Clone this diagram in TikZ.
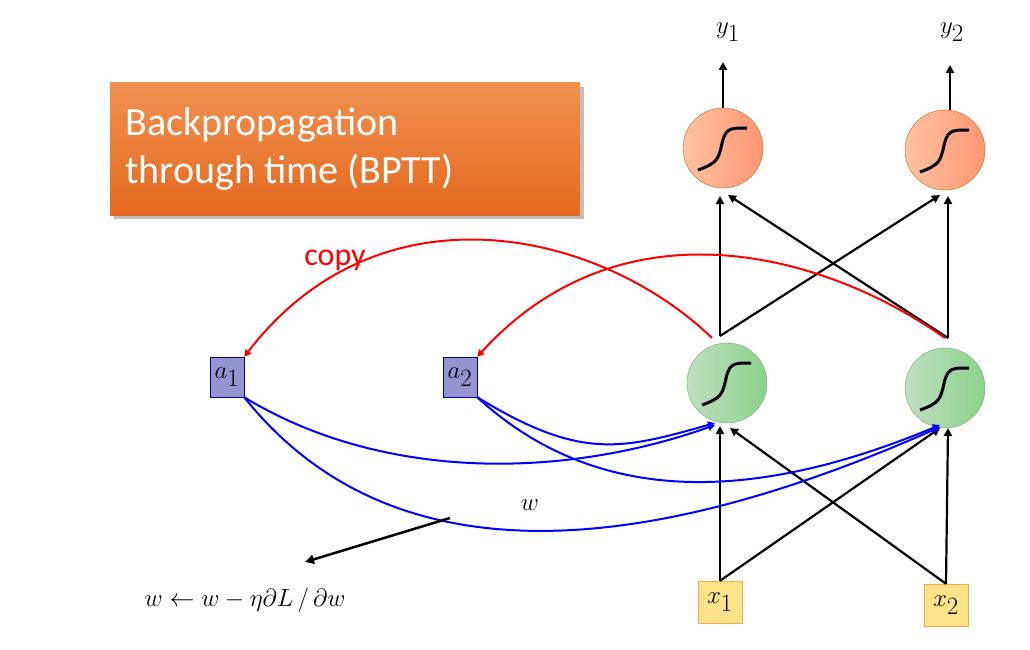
\documentclass[tikz,border=0pt]{standalone}
\usepackage{fontspec}
\setsansfont{Carlito}
\usetikzlibrary{arrows.meta}
\begin{document}
\begin{tikzpicture}[x=1pt,y=-1pt,
 neuronO/.style={circle,minimum size=80pt,draw=orange!80!black,left color=orange!30!white!90!red,right color=orange!50!red!55,inner sep=0},
 neuronG/.style={circle,minimum size=80pt,draw=green!50!black!60,left color=green!50!black!25,right color=green!60!black!45,inner sep=0},
 box/.style={draw=blue!60!black,fill=blue!40!gray!60,minimum width=34pt,minimum height=40pt,inner sep=0,font=\fontsize{34}{34}\selectfont},
 xbox/.style={draw=orange!70,fill=yellow!60!orange!45,minimum width=44pt,minimum height=42pt,inner sep=0,font=\fontsize{34}{34}\selectfont},
 blk/.style={line width=2.2pt,-{Triangle[length=8pt,width=8pt]}},
 red/.style={draw=red,line width=2pt,-{Triangle[length=7pt,width=7pt]}},
 blue/.style={draw=blue,line width=2pt,-{Triangle[length=7pt,width=7pt]}}]
\useasboundingbox (0,0) rectangle (1030,650);
\fill[black!25] (114,87) rectangle (584,219);
\node[top color={rgb,255:red,240;green,145;blue,80},bottom color={rgb,255:red,228;green,105;blue,30},minimum width=470pt,minimum height=132pt] (title) at (345,149) {};
\node[text=white,font=\sffamily\fontsize{40}{48}\selectfont,align=left,anchor=west] (tt) at (122,149) {Backpropagation\\through time (BPTT)};
\node[neuronO] (o1) at (723,148) {};
\node[neuronO] (o2) at (945,150) {};
\node[neuronG] (g1) at (727,383) {};
\node[neuronG] (g2) at (945,388) {};
\node[box] (a1) at (227,377) {$a_1$};
\node[box] (a2) at (460,377) {$a_2$};
\node[xbox] (x1) at (720,602) {$x_1$};
\node[xbox] (x2) at (946,605) {$x_2$};
\node[font=\fontsize{44}{44}\selectfont] (y1) at (728,32) {$y_1$};
\node[font=\fontsize{44}{44}\selectfont] (y2) at (952,32) {$y_2$};
\node[font=\sffamily\fontsize{32}{32}\selectfont,text=red] (copy) at (335,260) {copy};
\node[font=\fontsize{50}{50}\selectfont] (w) at (530,505) {$w$};
\node[font=\fontsize{50}{50}\selectfont] (upd) at (245,600) {$w \leftarrow w - \eta\partial L\,/\,\partial w$};
\coordinate (h1) at (720,336); \coordinate (h2) at (948,338);
\coordinate (wl) at (450,518); \coordinate (wt) at (305,562);
\foreach \n in {o1,o2,g1,g2}{
 \draw[line width=3pt] ([shift={(-25,22)}]\n.center) .. controls ([shift={(-5,15)}]\n.center) and ([shift={(-5,10)}]\n.center) .. ([shift={(-2,0)}]\n.center) .. controls ([shift={(2,-20)}]\n.center) and ([shift={(5,-20)}]\n.center) .. ([shift={(24,-20)}]\n.center);}
\draw[blk] (h1) -- (720,196);
\draw[blk] (h1) -- (940,195);
\draw[blk] (h2) -- (948,196);
\draw[blk] (h2) -- (728,195);
\draw[blk] (723,108) -- (723,62);
\draw[blk] (950,110) -- (950,65);
\draw[blk] (x1.north) -- (720,426);
\draw[blk] (x1.north) -- (940,428);
\draw[blk] (x2.north) -- (948,428);
\draw[blk] (x2.north) -- (730,428);
\draw[red] (712,338) .. controls (600,230) and (380,180) .. (a1.north east);
\draw[red] (945,338) .. controls (820,250) and (620,200) .. (a2.north east);
\draw[blue] (a1.south east) .. controls (380,480) and (560,480) .. (715,425);
\draw[blue] (a1.south east) .. controls (390,580) and (640,560) .. (940,427);
\draw[blue] (a2.south east) .. controls (580,460) and (620,450) .. (715,423);
\draw[blue] (a2.south east) .. controls (600,510) and (760,500) .. (940,425);
\draw[line width=2.5pt,-{Triangle[length=9pt,width=9pt]}] (wl) -- (wt);
\end{tikzpicture}
\end{document}
